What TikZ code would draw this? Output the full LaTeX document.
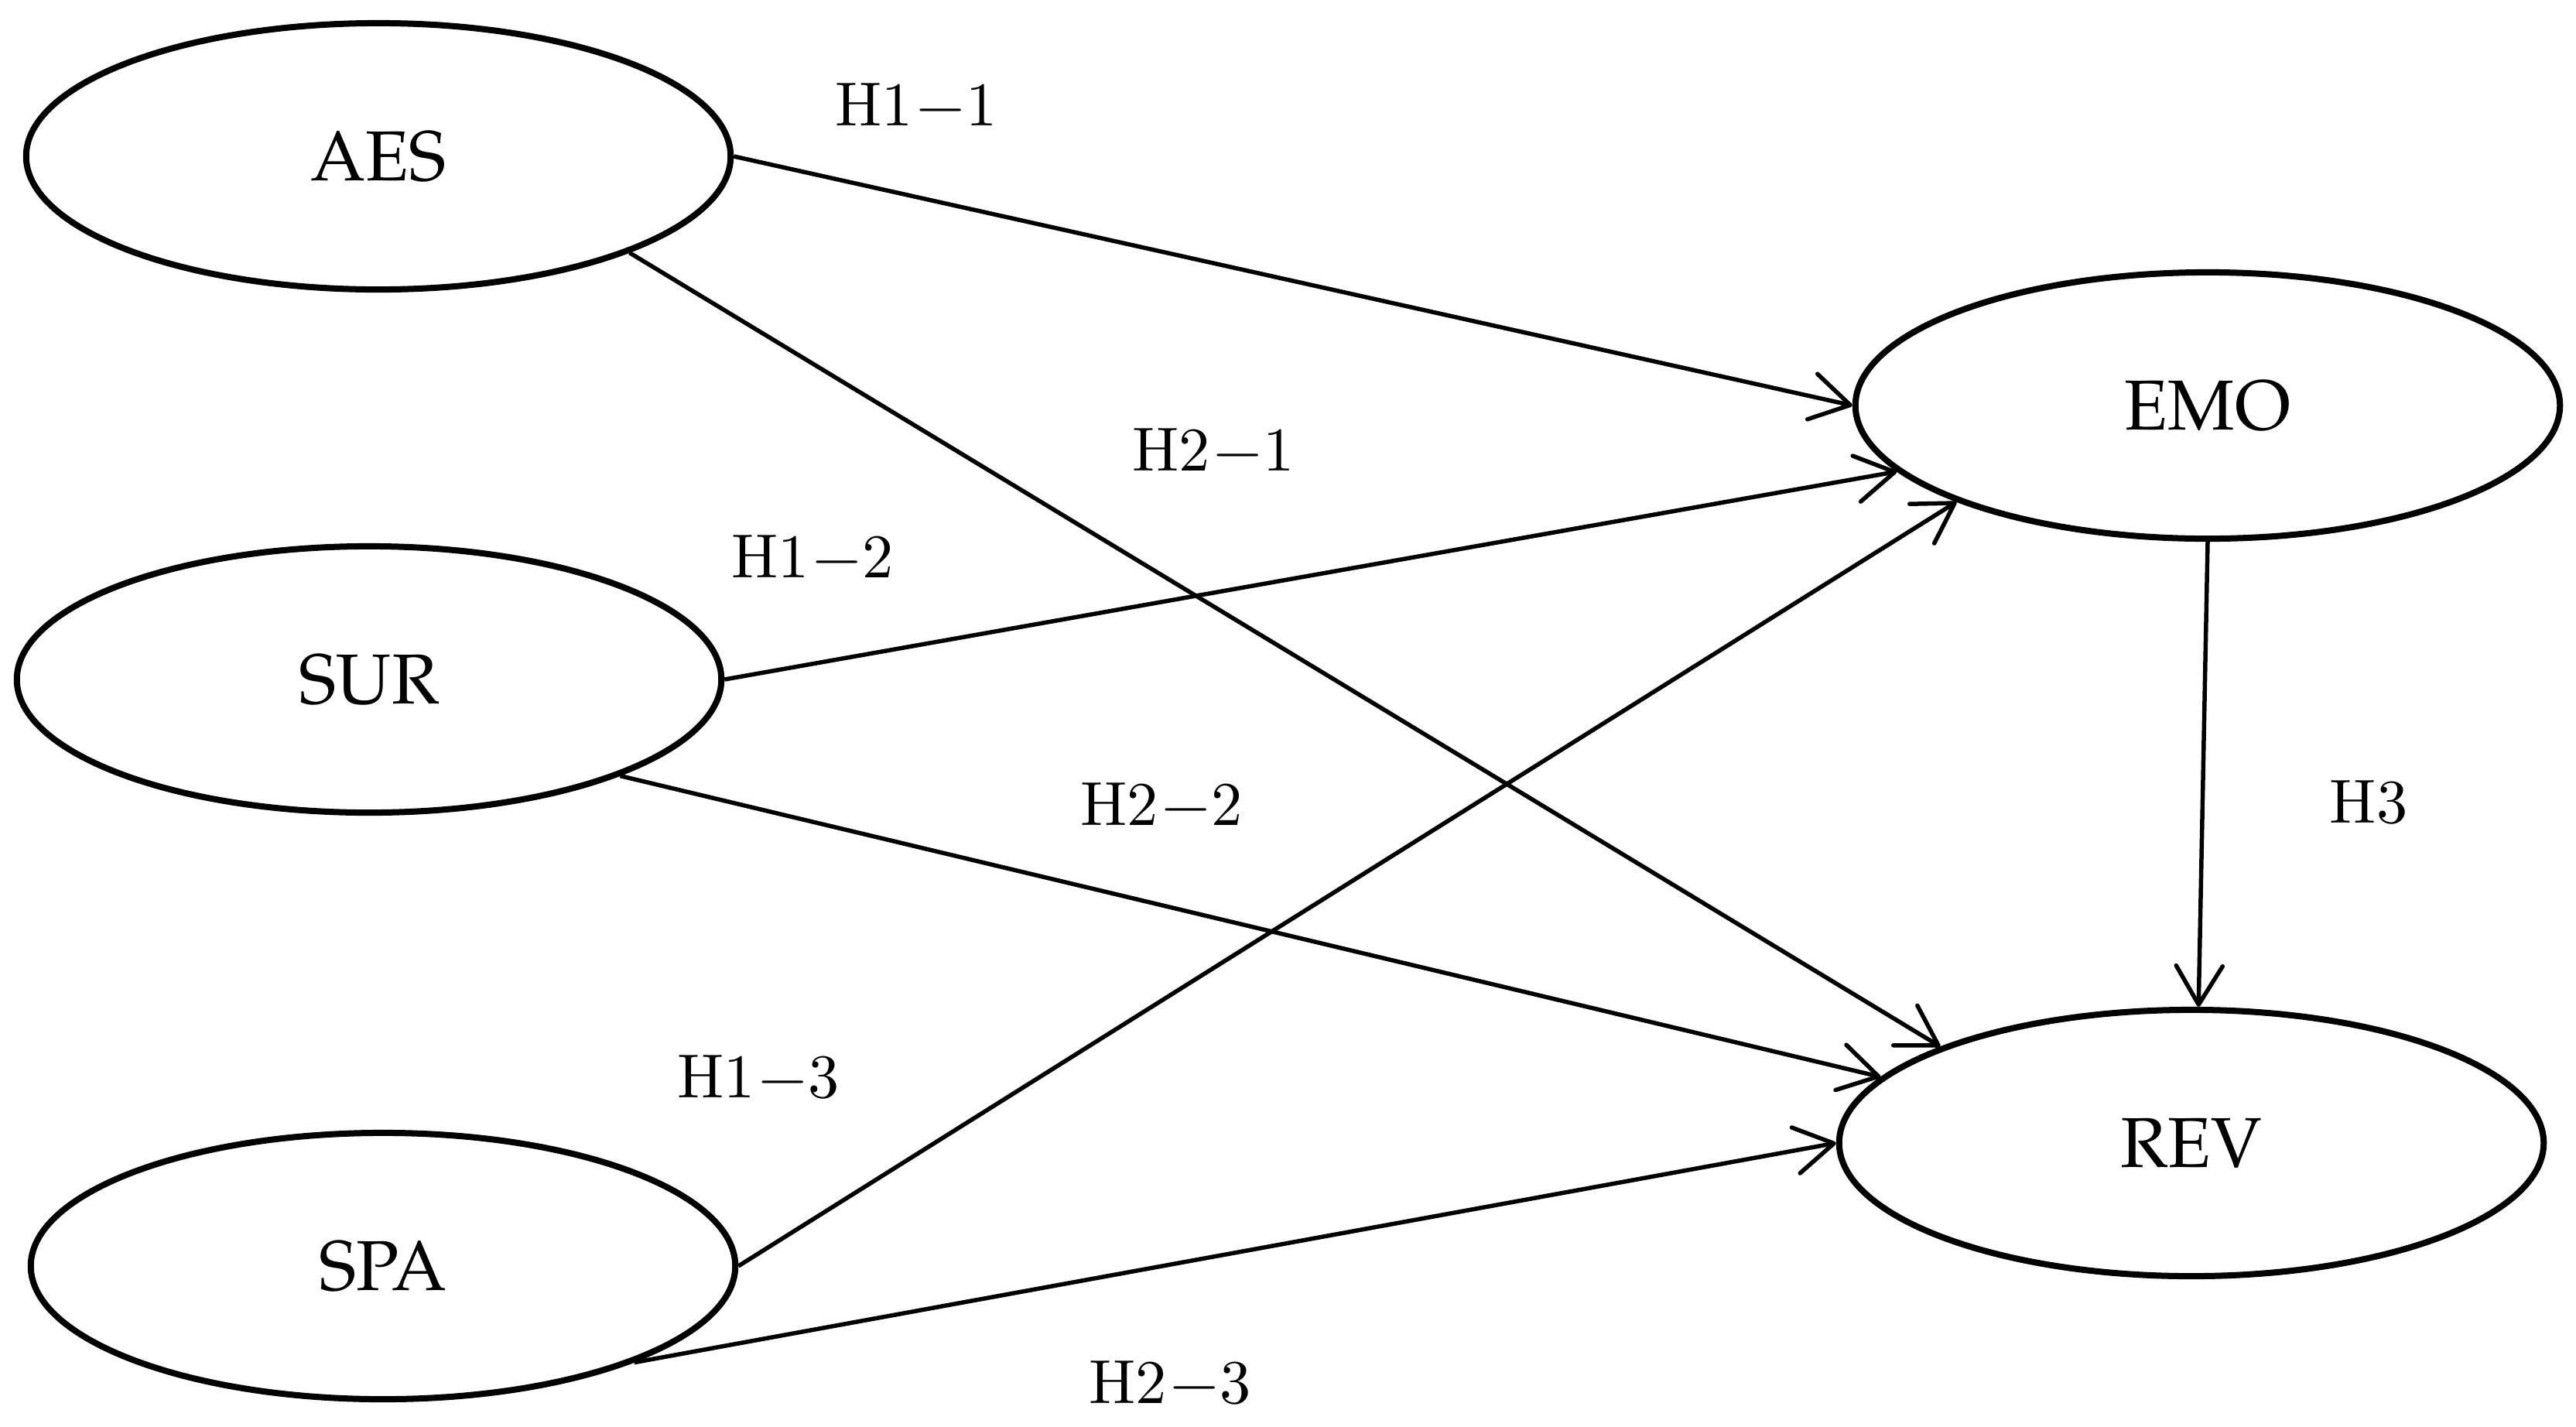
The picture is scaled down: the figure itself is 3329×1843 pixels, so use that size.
\documentclass[tikz,border=0pt]{standalone}
\usetikzlibrary{arrows.meta,shapes.geometric}
\font\hyplabfont="[lmroman10-regular]" at 58pt
\newcommand{\hypminus}{\kern0.05in−\kern0.015in}
\begin{document}
\begin{tikzpicture}[x=0.01in,y=-0.01in,
  latent/.style={ellipse, draw, line width=0.08in, minimum width=9.1in, minimum height=3.44in, inner sep=0pt,
    font=\fontsize{66}{70}\usefont{OT1}{ppl}{m}{n}},
  hypline/.style={line width=0.055in, -{Straight Barb[length=0.5in,width=0.6in,round]}},
  hyp/.style={anchor=base, inner sep=0pt, font=\hyplabfont}]
\useasboundingbox (0,0) rectangle (3329,1843);
\node[latent] (aes) at (489,202) {AES};
\node[latent] (sur) at (477,878) {SUR};
\node[latent] (spa) at (495,1636) {SPA};
\node[latent] (emo) at (2853,524) {EMO};
\node[latent] (rev) at (2832,1477) {REV};
\draw[hypline] (aes.0) -- (emo.180);
\draw[hypline] (aes.-21) -- (rev.159);
\draw[hypline] (sur.0) -- (emo.192);
\draw[hypline] (sur.-21) -- (rev.168);
\draw[hypline] (spa.0) -- (emo.201);
\draw[hypline] (spa.-21) -- (rev.180);
\draw[hypline] (emo.270) -- (rev.87);
\node[hyp] (l11) at (1184,162) {H1\hypminus 1};
\node[hyp] (l21) at (1568,608) {H2\hypminus 1};
\node[hyp] (l12) at (1050,746) {H1\hypminus 2};
\node[hyp] (l22) at (1501,1066) {H2\hypminus 2};
\node[hyp] (l13) at (980,1418) {H1\hypminus 3};
\node[hyp] (l23) at (1512,1813) {H2\hypminus 3};
\node[hyp] (l3) at (3061,1063) {H3};
\end{tikzpicture}
\end{document}
